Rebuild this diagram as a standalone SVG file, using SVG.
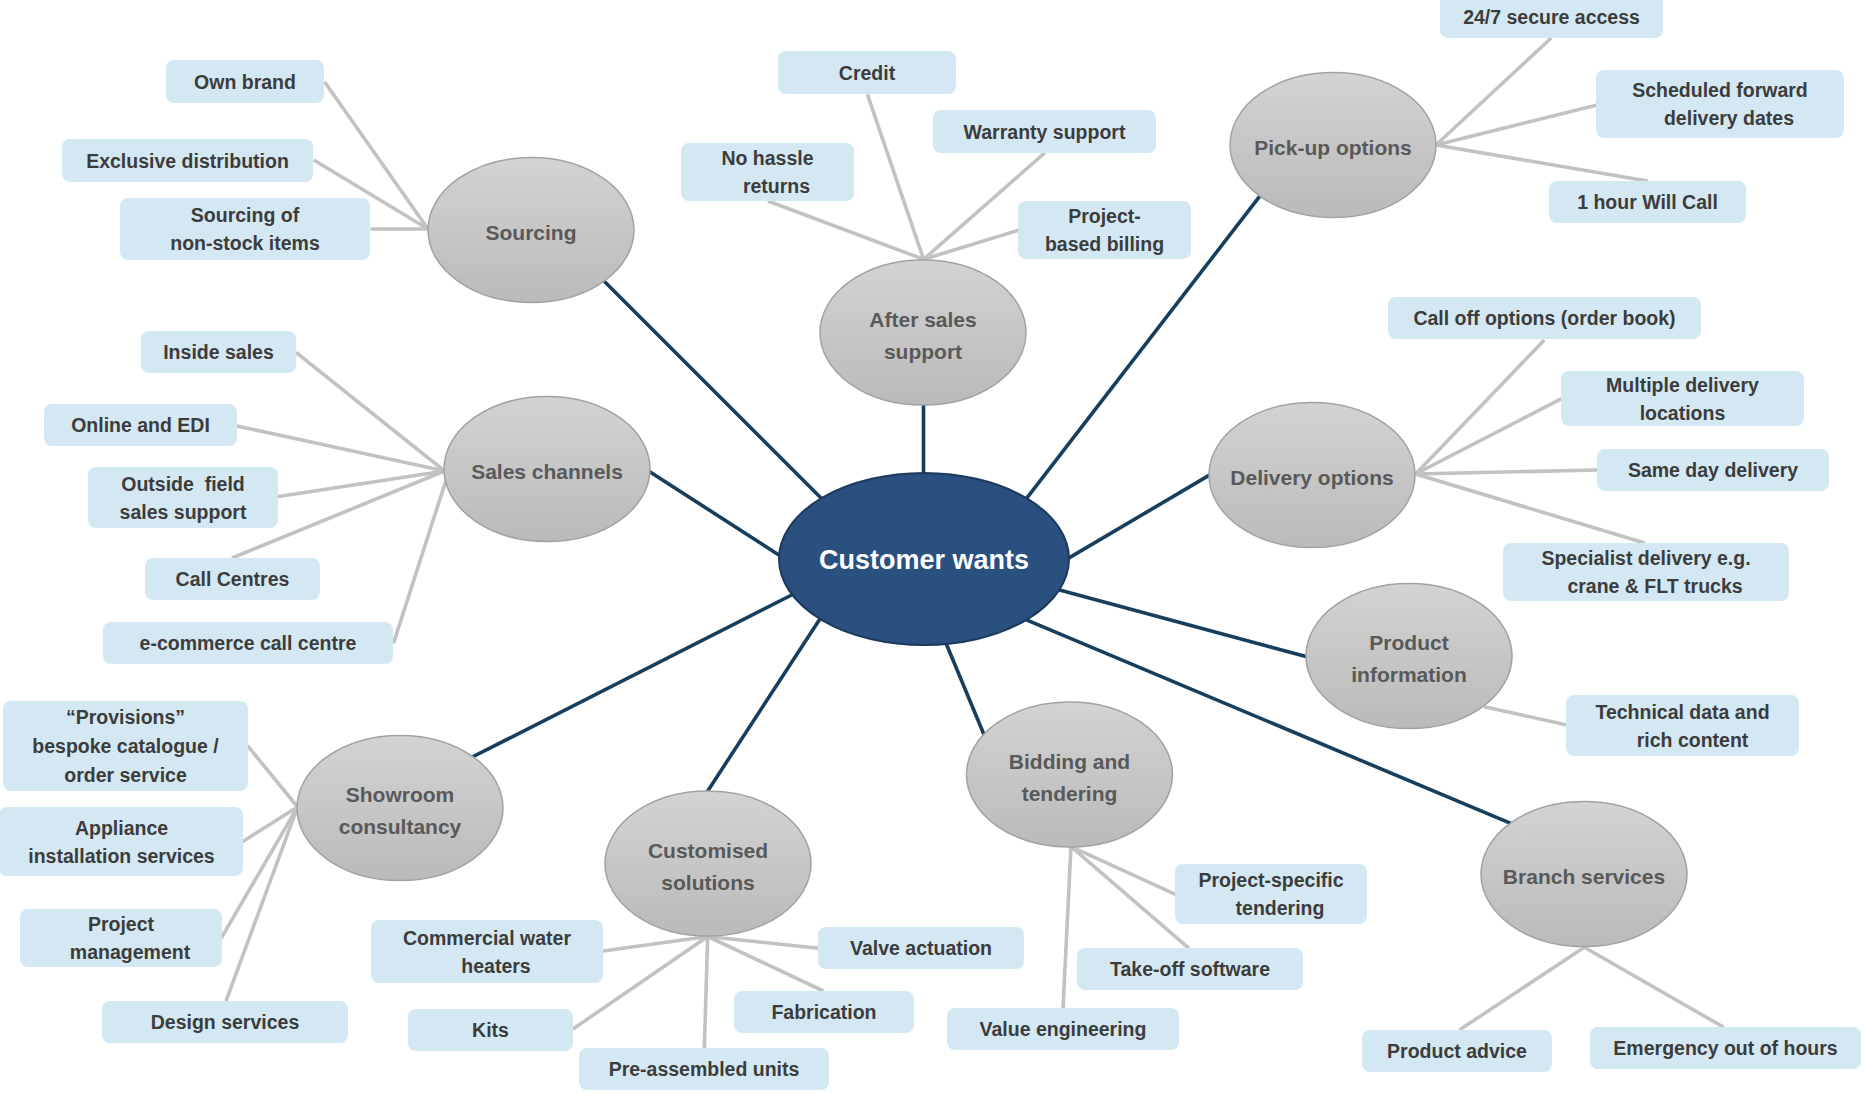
<svg xmlns="http://www.w3.org/2000/svg" width="1864" height="1095" viewBox="0 0 1864 1095">
  <style>
    .trunk { stroke: #173f5d; stroke-width: 3.6; fill: none; }
    .twig { stroke: #c2c2c2; stroke-width: 3.6; fill: none; }
    .topic { fill: url(#greyFill); stroke: #a2a2a2; stroke-width: 1.5; }
    .leaf rect { fill: #d4e8f3; }
    .leaf text { font-family: "Liberation Sans", Arial, sans-serif; font-weight: bold; font-size: 19.5px; fill: #3c3c3c; text-anchor: middle; }
    .topic-label { font-family: "Liberation Sans", Arial, sans-serif; font-weight: bold; font-size: 21px; fill: #595959; text-anchor: middle; }
    .hub-label { font-family: "Liberation Sans", Arial, sans-serif; font-weight: bold; font-size: 27px; fill: #ffffff; text-anchor: middle; }
  </style>
  <defs>
    <linearGradient id="greyFill" x1="0" y1="0" x2="0" y2="1">
      <stop offset="0" stop-color="#d3d3d3"/>
      <stop offset="1" stop-color="#bababa"/>
    </linearGradient>
  </defs>
  <rect width="1864" height="1095" fill="#ffffff"/>

  <g id="connectors">
    <!-- hub to topics -->
    <g id="trunks">
      <line class="trunk" x1="829" y1="506" x2="598" y2="275"/>
      <line class="trunk" x1="923.5" y1="480" x2="923.5" y2="398"/>
      <line class="trunk" x1="1020.6" y1="506.2" x2="1265.4" y2="188.8"/>
      <line class="trunk" x1="787.4" y1="560.4" x2="641.2" y2="466.3"/>
      <line class="trunk" x1="1059.7" y1="563.4" x2="1218.3" y2="469.9"/>
      <line class="trunk" x1="1050.3" y1="587.4" x2="1316.2" y2="659.3"/>
      <line class="trunk" x1="1017.5" y1="616.1" x2="1519.7" y2="827.2"/>
      <line class="trunk" x1="942.9" y1="635.8" x2="988" y2="744.2"/>
      <line class="trunk" x1="824.8" y1="611.6" x2="702.2" y2="799.4"/>
      <line class="trunk" x1="800.6" y1="590.5" x2="465.4" y2="760.5"/>
    </g>
    <!-- topics to detail boxes -->
    <g id="twigs">
      <!-- Sourcing -->
      <line class="twig" x1="428" y1="229" x2="324.5" y2="81.7"/>
      <line class="twig" x1="428" y1="229" x2="313.8" y2="160"/>
      <line class="twig" x1="428" y1="229" x2="370.5" y2="229"/>
      <!-- After sales support -->
      <line class="twig" x1="923.6" y1="259.3" x2="867.4" y2="94.3"/>
      <line class="twig" x1="923.6" y1="259.3" x2="767.9" y2="201"/>
      <line class="twig" x1="923.6" y1="259.3" x2="1045" y2="152.7"/>
      <line class="twig" x1="923.6" y1="259.3" x2="1019.3" y2="230"/>
      <!-- Pick-up options -->
      <line class="twig" x1="1436" y1="145" x2="1551.5" y2="37.7"/>
      <line class="twig" x1="1436" y1="145" x2="1597" y2="105"/>
      <line class="twig" x1="1436" y1="145" x2="1647.7" y2="181"/>
      <!-- Delivery options -->
      <line class="twig" x1="1415.6" y1="474" x2="1544.3" y2="340"/>
      <line class="twig" x1="1415.6" y1="474" x2="1562" y2="398.3"/>
      <line class="twig" x1="1415.6" y1="474" x2="1597.5" y2="470"/>
      <line class="twig" x1="1415.6" y1="474" x2="1644.7" y2="543"/>
      <!-- Product information -->
      <line class="twig" x1="1484" y1="706.7" x2="1567" y2="725"/>
      <!-- Branch services -->
      <line class="twig" x1="1584.3" y1="947.3" x2="1459.4" y2="1030"/>
      <line class="twig" x1="1584.3" y1="947.3" x2="1723.8" y2="1027.3"/>
      <!-- Bidding and tendering -->
      <line class="twig" x1="1071" y1="846.7" x2="1175.5" y2="894.3"/>
      <line class="twig" x1="1071" y1="846.7" x2="1189" y2="948.3"/>
      <line class="twig" x1="1071" y1="846.7" x2="1063" y2="1008.3"/>
      <!-- Customised solutions -->
      <line class="twig" x1="707.7" y1="936.5" x2="603" y2="951"/>
      <line class="twig" x1="707.7" y1="936.5" x2="573" y2="1029"/>
      <line class="twig" x1="707.7" y1="936.5" x2="704.3" y2="1048.5"/>
      <line class="twig" x1="707.7" y1="936.5" x2="823.3" y2="991"/>
      <line class="twig" x1="707.7" y1="936.5" x2="818.5" y2="948.3"/>
      <!-- Showroom consultancy -->
      <line class="twig" x1="297.6" y1="807" x2="247.5" y2="745.7"/>
      <line class="twig" x1="297.6" y1="807" x2="242.5" y2="841.7"/>
      <line class="twig" x1="297.6" y1="807" x2="221.1" y2="938.3"/>
      <line class="twig" x1="297.6" y1="807" x2="226" y2="1001"/>
      <!-- Sales channels -->
      <line class="twig" x1="444.5" y1="471" x2="296" y2="352.3"/>
      <line class="twig" x1="444.5" y1="471" x2="237" y2="426"/>
      <line class="twig" x1="444.5" y1="471" x2="277" y2="496.7"/>
      <line class="twig" x1="444.5" y1="471" x2="232" y2="558"/>
      <line class="twig" x1="446.4" y1="479" x2="393.5" y2="643.3"/>
    </g>
  </g>

  <!-- hub -->
  <g id="customer-wants">
    <ellipse cx="924" cy="559" rx="145" ry="86" fill="#29507f" stroke="#1d3a5d" stroke-width="2"/>
    <text class="hub-label" x="924" y="569">Customer wants</text>
  </g>

  <!-- topics -->
  <g id="sourcing">
    <ellipse class="topic" cx="531" cy="230" rx="103" ry="72.5"/>
    <text class="topic-label" x="531" y="240">Sourcing</text>
  </g>
  <g id="after-sales-support">
    <ellipse class="topic" cx="923" cy="332.5" rx="103" ry="72.5"/>
    <text class="topic-label"><tspan x="923" y="326.5">After sales</tspan><tspan x="923" y="358.5">support</tspan></text>
  </g>
  <g id="pick-up-options">
    <ellipse class="topic" cx="1333" cy="145" rx="103" ry="72.5"/>
    <text class="topic-label" x="1333" y="155">Pick-up options</text>
  </g>
  <g id="sales-channels">
    <ellipse class="topic" cx="547" cy="469" rx="103" ry="72.5"/>
    <text class="topic-label" x="547" y="479">Sales channels</text>
  </g>
  <g id="delivery-options">
    <ellipse class="topic" cx="1312" cy="475" rx="103" ry="72.5"/>
    <text class="topic-label" x="1312" y="485">Delivery options</text>
  </g>
  <g id="product-information">
    <ellipse class="topic" cx="1409" cy="656" rx="103" ry="72.5"/>
    <text class="topic-label"><tspan x="1409" y="650">Product</tspan><tspan x="1409" y="682">information</tspan></text>
  </g>
  <g id="branch-services">
    <ellipse class="topic" cx="1584" cy="874" rx="103" ry="72.5"/>
    <text class="topic-label" x="1584" y="884">Branch services</text>
  </g>
  <g id="bidding-and-tendering">
    <ellipse class="topic" cx="1069.5" cy="774.5" rx="103" ry="72.5"/>
    <text class="topic-label"><tspan x="1069.5" y="768.5">Bidding and</tspan><tspan x="1069.5" y="800.5">tendering</tspan></text>
  </g>
  <g id="customised-solutions">
    <ellipse class="topic" cx="708" cy="863.5" rx="103" ry="72.5"/>
    <text class="topic-label"><tspan x="708" y="857.5">Customised</tspan><tspan x="708" y="889.5">solutions</tspan></text>
  </g>
  <g id="showroom-consultancy">
    <ellipse class="topic" cx="400" cy="808" rx="103" ry="72.5"/>
    <text class="topic-label"><tspan x="400" y="802">Showroom</tspan><tspan x="400" y="834">consultancy</tspan></text>
  </g>

  <!-- detail boxes -->
  <g id="own-brand" class="leaf">
    <rect x="166" y="60" width="158" height="43" rx="8"/>
    <text x="245" y="88.5">Own brand</text>
  </g>
  <g id="exclusive-distribution" class="leaf">
    <rect x="62" y="139" width="251" height="43" rx="8"/>
    <text x="187.5" y="167.5">Exclusive distribution</text>
  </g>
  <g id="sourcing-non-stock" class="leaf">
    <rect x="120" y="198" width="250" height="62" rx="8"/>
    <text><tspan x="245" y="222">Sourcing of</tspan><tspan x="245" y="250">non-stock items</tspan></text>
  </g>
  <g id="credit" class="leaf">
    <rect x="778" y="51" width="178" height="43" rx="8"/>
    <text x="867" y="79.5">Credit</text>
  </g>
  <g id="warranty-support" class="leaf">
    <rect x="933" y="110" width="223" height="43" rx="8"/>
    <text x="1044.5" y="138.5">Warranty support</text>
  </g>
  <g id="no-hassle-returns" class="leaf">
    <rect x="681" y="143" width="173" height="58" rx="8"/>
    <text><tspan x="767.5" y="165">No hassle</tspan><tspan x="776.5" y="193">returns</tspan></text>
  </g>
  <g id="project-based-billing" class="leaf">
    <rect x="1018" y="201" width="173" height="58" rx="8"/>
    <text><tspan x="1104.5" y="223">Project-</tspan><tspan x="1104.5" y="251">based billing</tspan></text>
  </g>
  <g id="secure-access" class="leaf">
    <rect x="1440" y="-6" width="223" height="44" rx="8"/>
    <text x="1551.5" y="24">24/7 secure access</text>
  </g>
  <g id="scheduled-forward-delivery" class="leaf">
    <rect x="1596" y="70" width="248" height="68" rx="8"/>
    <text><tspan x="1720" y="97">Scheduled forward</tspan><tspan x="1729" y="125">delivery dates</tspan></text>
  </g>
  <g id="will-call" class="leaf">
    <rect x="1549" y="181" width="197" height="42" rx="8"/>
    <text x="1647.5" y="209">1 hour Will Call</text>
  </g>
  <g id="call-off-options" class="leaf">
    <rect x="1388" y="297" width="313" height="42" rx="8"/>
    <text x="1544.5" y="325">Call off options (order book)</text>
  </g>
  <g id="multiple-delivery-locations" class="leaf">
    <rect x="1561" y="371" width="243" height="55" rx="8"/>
    <text><tspan x="1682.5" y="391.5">Multiple delivery</tspan><tspan x="1682.5" y="419.5">locations</tspan></text>
  </g>
  <g id="same-day-delivery" class="leaf">
    <rect x="1597" y="449" width="232" height="42" rx="8"/>
    <text x="1713" y="477">Same day delivery</text>
  </g>
  <g id="specialist-delivery" class="leaf">
    <rect x="1503" y="543" width="286" height="58" rx="8"/>
    <text><tspan x="1646" y="565">Specialist delivery e.g.</tspan><tspan x="1655" y="593">crane &amp; FLT trucks</tspan></text>
  </g>
  <g id="technical-data" class="leaf">
    <rect x="1566" y="695" width="233" height="61" rx="8"/>
    <text><tspan x="1682.5" y="718.5">Technical data and</tspan><tspan x="1692.5" y="746.5">rich content</tspan></text>
  </g>
  <g id="product-advice" class="leaf">
    <rect x="1362" y="1030" width="190" height="42" rx="8"/>
    <text x="1457" y="1058">Product advice</text>
  </g>
  <g id="emergency-out-of-hours" class="leaf">
    <rect x="1590" y="1027" width="271" height="42" rx="8"/>
    <text x="1725.5" y="1055">Emergency out of hours</text>
  </g>
  <g id="project-specific-tendering" class="leaf">
    <rect x="1175" y="864" width="192" height="60" rx="8"/>
    <text><tspan x="1271" y="887">Project-specific</tspan><tspan x="1280" y="915">tendering</tspan></text>
  </g>
  <g id="take-off-software" class="leaf">
    <rect x="1077" y="948" width="226" height="42" rx="8"/>
    <text x="1190" y="976">Take-off software</text>
  </g>
  <g id="value-engineering" class="leaf">
    <rect x="947" y="1008" width="232" height="42" rx="8"/>
    <text x="1063" y="1036">Value engineering</text>
  </g>
  <g id="valve-actuation" class="leaf">
    <rect x="818" y="927" width="206" height="42" rx="8"/>
    <text x="921" y="955">Valve actuation</text>
  </g>
  <g id="fabrication" class="leaf">
    <rect x="734" y="991" width="180" height="42" rx="8"/>
    <text x="824" y="1019">Fabrication</text>
  </g>
  <g id="pre-assembled-units" class="leaf">
    <rect x="579" y="1048" width="250" height="42" rx="8"/>
    <text x="704" y="1076">Pre-assembled units</text>
  </g>
  <g id="kits" class="leaf">
    <rect x="408" y="1009" width="165" height="42" rx="8"/>
    <text x="490.5" y="1037">Kits</text>
  </g>
  <g id="commercial-water-heaters" class="leaf">
    <rect x="371" y="920" width="232" height="63" rx="8"/>
    <text><tspan x="487" y="944.5">Commercial water</tspan><tspan x="496" y="972.5">heaters</tspan></text>
  </g>
  <g id="design-services" class="leaf">
    <rect x="102" y="1001" width="246" height="42" rx="8"/>
    <text x="225" y="1029">Design services</text>
  </g>
  <g id="project-management" class="leaf">
    <rect x="20" y="909" width="202" height="58" rx="8"/>
    <text><tspan x="121" y="931">Project</tspan><tspan x="130" y="959">management</tspan></text>
  </g>
  <g id="appliance-installation" class="leaf">
    <rect x="-1" y="807" width="244" height="69" rx="8"/>
    <text><tspan x="121.5" y="834.5">Appliance</tspan><tspan x="121.5" y="862.5">installation services</tspan></text>
  </g>
  <g id="provisions-catalogue" class="leaf">
    <rect x="3" y="701" width="245" height="90" rx="8"/>
    <text><tspan x="125.5" y="724">“Provisions”</tspan><tspan x="125.5" y="753">bespoke catalogue /</tspan><tspan x="125.5" y="782">order service</tspan></text>
  </g>
  <g id="e-commerce-call-centre" class="leaf">
    <rect x="103" y="622" width="290" height="42" rx="8"/>
    <text x="248" y="650">e-commerce call centre</text>
  </g>
  <g id="call-centres" class="leaf">
    <rect x="145" y="558" width="175" height="42" rx="8"/>
    <text x="232.5" y="586">Call Centres</text>
  </g>
  <g id="outside-field-sales" class="leaf">
    <rect x="88" y="467" width="190" height="61" rx="8"/>
    <text style="white-space: pre"><tspan x="183" y="490.5">Outside  field</tspan><tspan x="183" y="518.5">sales support</tspan></text>
  </g>
  <g id="online-and-edi" class="leaf">
    <rect x="44" y="404" width="193" height="42" rx="8"/>
    <text x="140.5" y="432">Online and EDI</text>
  </g>
  <g id="inside-sales" class="leaf">
    <rect x="141" y="331" width="155" height="42" rx="8"/>
    <text x="218.5" y="359">Inside sales</text>
  </g>
</svg>
